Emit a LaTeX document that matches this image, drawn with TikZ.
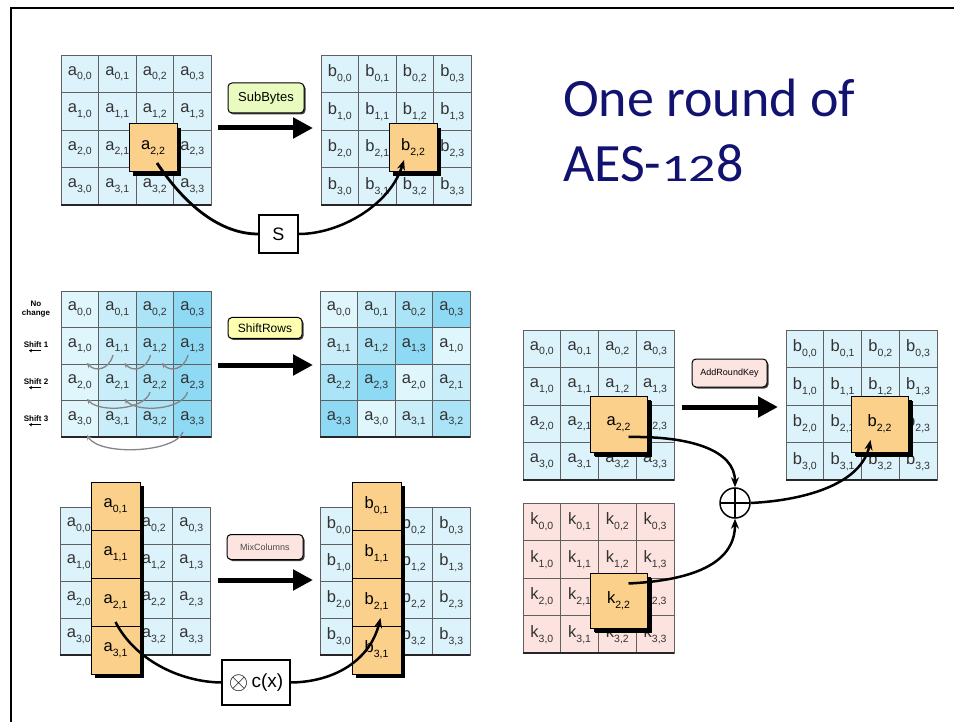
\documentclass[tikz,border=0pt]{standalone}
\usepackage{fontspec}
\setmainfont{Liberation Sans}
\newfontfamily\titlefont{Carlito}
\usetikzlibrary{arrows.meta,shadows,calc}
\definecolor{cellblue}{HTML}{DCF3FC}
\definecolor{col0}{HTML}{E0F6FD}
\definecolor{col1}{HTML}{C9EEFA}
\definecolor{col2}{HTML}{ABE4F7}
\definecolor{col3}{HTML}{8ED9F4}
\definecolor{keypink}{HTML}{FDE3E0}
\definecolor{hlorange}{HTML}{FBD08A}
\definecolor{lblgreen}{HTML}{EAFBC0}
\definecolor{lblyellow}{HTML}{FFFFB0}
\definecolor{lblpink}{HTML}{FCE4E0}
\definecolor{gridgray}{HTML}{606060}
\definecolor{celltext}{HTML}{333333}
\definecolor{arcgray}{HTML}{858585}
\definecolor{navy}{HTML}{121270}
\newcommand{\cel}[2]{#1\raisebox{-0.3em}{\fontsize{10.5}{10.5}\selectfont #2}}
% #1 name, #2 x0, #3 y0, #4 w, #5 h, #6 letter, #7 fill, #8 hidden row (-1 = all), #9 hidden col (-1 = none)
\newcommand{\sgrid}[9]{%
  \foreach \i in {0,...,3}{\foreach \j in {0,...,3}{%
    \pgfmathtruncatemacro{\hide}{((\j==#9)&&((\i==#8)||(#8<0)))?1:0}%
    \node[cell, fill=#7, minimum width=#4pt, minimum height=#5pt] (#1-\i-\j) at ({#2+(\j+0.5)*#4},{#3+(\i+0.5)*#5}) {\ifnum\hide=1\relax\else\cel{#6}{\i,\j}\fi};
  }}%
  \draw[gridedge] (#2,{#3+4*#5}) -- ({#2+4*#4},{#3+4*#5});
}
\tikzset{
 cell/.style={draw=gridgray, line width=0.8pt, text=celltext, font=\fontsize{16.5}{16.5}\selectfont, inner sep=0pt, outer sep=0pt},
 hl/.style={draw=black, line width=1pt, fill=hlorange, text=black, font=\fontsize{16.5}{16.5}\selectfont, inner sep=0pt, outer sep=0pt, drop shadow={shadow xshift=4pt, shadow yshift=-4pt, fill=black, opacity=1}},
 hlbig/.style={hl, drop shadow={shadow xshift=5pt, shadow yshift=-5pt, fill=black, opacity=1}},
 lbl/.style={draw=black, line width=1pt, rounded corners=4pt, inner sep=2pt, drop shadow={shadow xshift=1.5pt, shadow yshift=-1.5pt, fill=black!75, opacity=1}},
 bigarrow/.style={line width=5pt, -{Triangle[length=20pt, width=20pt]}},
 flow/.style={line width=2.5pt, -{Stealth[length=10pt, width=8pt]}},
 grayarc/.style={draw=arcgray, line width=1.3pt, -{Stealth[length=5pt, width=5pt]}},
 opbox/.style={draw=black, line width=1.2pt, fill=white, inner sep=0pt},
 gridedge/.style={line width=2pt, draw=black!85},
 shiftlbl/.style={font=\bfseries\fontsize{8}{8.5}\selectfont, align=center, inner sep=0pt}
}
\begin{document}
\begin{tikzpicture}[x=1pt,y=-1pt]
\useasboundingbox (0,0) rectangle (954,722);
% frame
\draw[line width=2.5pt] (11,722) -- (11,8) -- (954,8);

% title
\node[anchor=base west, font=\titlefont\fontsize{54}{54}\selectfont, text=navy, inner sep=0pt] (t1) at (563,117) {One round of};
\node[anchor=base west, font=\titlefont\fontsize{54}{54}\selectfont, text=navy, inner sep=0pt] (t2) at (563,182) {AES-\scalebox{1}[0.72]{12}8};

% ===== SubBytes =====
\sgrid{sbA}{61}{55}{37.5}{37.5}{a}{cellblue}{2}{2}
\sgrid{sbB}{321}{55}{37.5}{37.5}{b}{cellblue}{2}{2}
\node[hl, minimum size=48pt] (sbAh) at (153,148) {\cel{a}{2,2}};
\node[hl, minimum size=48pt] (sbBh) at (413,148) {\cel{b}{2,2}};
\node[lbl, fill=lblgreen, minimum width=76pt, minimum height=30pt, font=\fontsize{13}{13}\selectfont] (sbL) at (266,98) {SubBytes};
\coordinate (sbS) at (218,128);
\coordinate (sbE) at (313,128);
\draw[bigarrow] (sbS) -- (sbE);
\node[opbox, minimum width=39pt, minimum height=38pt, font=\fontsize{18}{18}\selectfont] (sbox) at (278.5,234) {S};
\draw[line width=2.8pt] ($(sbAh.center)+(4,15)$) .. controls (185,205) and (220,234) .. (sbox.west);
\draw[flow] (sbox.east) .. controls (340,234) and (390,205) .. ($(sbBh.center)+(-9,12)$);

% ===== ShiftRows =====
\sgrid{srA}{61}{291}{37.5}{36.5}{a}{col\j}{-1}{-1}
\foreach \i in {0,...,3}{\foreach \j in {0,...,3}{%
  \pgfmathtruncatemacro{\k}{mod(\i+\j,4)}
  \node[cell, fill=col\k, minimum width=37.5pt, minimum height=36.5pt] (srB-\i-\j) at ({320+(\j+0.5)*37.5},{291+(\i+0.5)*36.5}) {\cel{a}{\i,\k}};
}}
\draw[gridedge] (320,437) -- (470,437);
\node[lbl, fill=lblyellow, minimum width=74pt, minimum height=21pt, font=\fontsize{12}{12}\selectfont] (srL) at (265,328) {ShiftRows};
\coordinate (srS) at (218,365);
\coordinate (srE) at (313,365);
\draw[bigarrow] (srS) -- (srE);
% row labels
\node[shiftlbl] (nc) at (36,309) {No\\change};
\node[shiftlbl] (s1) at (36,345) {Shift 1};
\node[shiftlbl] (s2) at (36,382) {Shift 2};
\node[shiftlbl] (s3) at (36,419) {Shift 3};
\foreach \n in {s1,s2,s3}{
  \draw[line width=1pt, -{Stealth[length=3pt,width=3.5pt]}] ($(\n.south)+(5,2.5)$) -- ($(\n.south)+(-7,2.5)$);
}
% shift arcs
\foreach \d in {0,37.5,75}{
  \draw[grayarc] (113+\d,355) .. controls (109+\d,370) and (95+\d,372) .. (87+\d,363);
}
\foreach \d in {0,37.5}{
  \draw[grayarc] (150+\d,392) .. controls (145+\d,410) and (100+\d,413) .. (87+\d,399);
}
\draw[grayarc] (183,432) .. controls (175,453) and (100,456) .. (87,435);

% ===== MixColumns =====
\sgrid{mcA}{60}{507}{37.5}{37}{a}{cellblue}{-1}{1}
\sgrid{mcB}{320}{507}{37.5}{37}{b}{cellblue}{-1}{1}
\foreach \i in {0,...,3}{
  \node[hl, minimum width=49pt, minimum height=48pt] (mcAh\i) at (115.5,{506+48*\i}) {\cel{a}{\i,1}};
  \node[hl, minimum width=49pt, minimum height=48pt] (mcBh\i) at (376.5,{506+48*\i}) {\cel{b}{\i,1}};
}
\node[lbl, fill=lblpink, minimum width=76pt, minimum height=25pt, font=\fontsize{9}{9}\selectfont, text=black!70] (mcL) at (265,547) {MixColumns};
\coordinate (mcS) at (218,580);
\coordinate (mcE) at (313,580);
\draw[bigarrow] (mcS) -- (mcE);
\node[opbox, minimum width=68pt, minimum height=45pt, font=\fontsize{19}{19}\selectfont] (cx) at (256,682.5) {\raisebox{-0.12em}{\scalebox{1.45}{$\otimes$}}\,c(x)};
\draw[line width=2.5pt] ($(mcAh2.center)+(0,20)$) .. controls (135,660) and (180,682) .. (cx.west);
\draw[flow] (cx.east) .. controls (335,682) and (370,660) .. ($(mcBh2.center)+(4,16)$);

% ===== AddRoundKey =====
\sgrid{arA}{523}{330}{37.75}{37.5}{a}{cellblue}{2}{2}
\sgrid{arB}{786}{330}{37.75}{37.5}{b}{cellblue}{2}{2}
\sgrid{arK}{523}{503}{37.75}{37.5}{k}{keypink}{2}{2}
\node[hlbig, minimum width=57pt, minimum height=56pt] (arAh) at (618.5,424) {\cel{a}{2,2}};
\node[hlbig, minimum width=57pt, minimum height=56pt] (arBh) at (879.5,424) {\cel{b}{2,2}};
\node[hlbig, minimum width=57pt, minimum height=55pt] (arKh) at (618.5,600.5) {\cel{k}{2,2}};
\node[lbl, fill=lblpink, minimum width=75pt, minimum height=28pt, font=\fontsize{9}{9}\selectfont] (arL) at (729.5,373) {AddRoundKey};
\coordinate (arS) at (682,407);
\coordinate (arE) at (778,407);
\draw[bigarrow] (arS) -- (arE);
\node[circle, draw=black, line width=1.5pt, minimum size=30pt, inner sep=0pt, fill=white,
  path picture={\draw[line width=1.2pt] (path picture bounding box.north) -- (path picture bounding box.south);
                \draw[line width=1.2pt] (path picture bounding box.west) -- (path picture bounding box.east);}] (xor) at (735,503) {};
\draw[flow] ($(arAh.center)+(10,13)$) .. controls (690,436) and (735,450) .. (xor.north);
\draw[flow] ($(arKh.center)+(10,-17)$) .. controls (700,580) and (735,560) .. (xor.south);
\draw[flow] (xor.east) .. controls (810,500) and (862,482) .. ($(arBh.center)+(-9,16)$);
\end{tikzpicture}
\end{document}
